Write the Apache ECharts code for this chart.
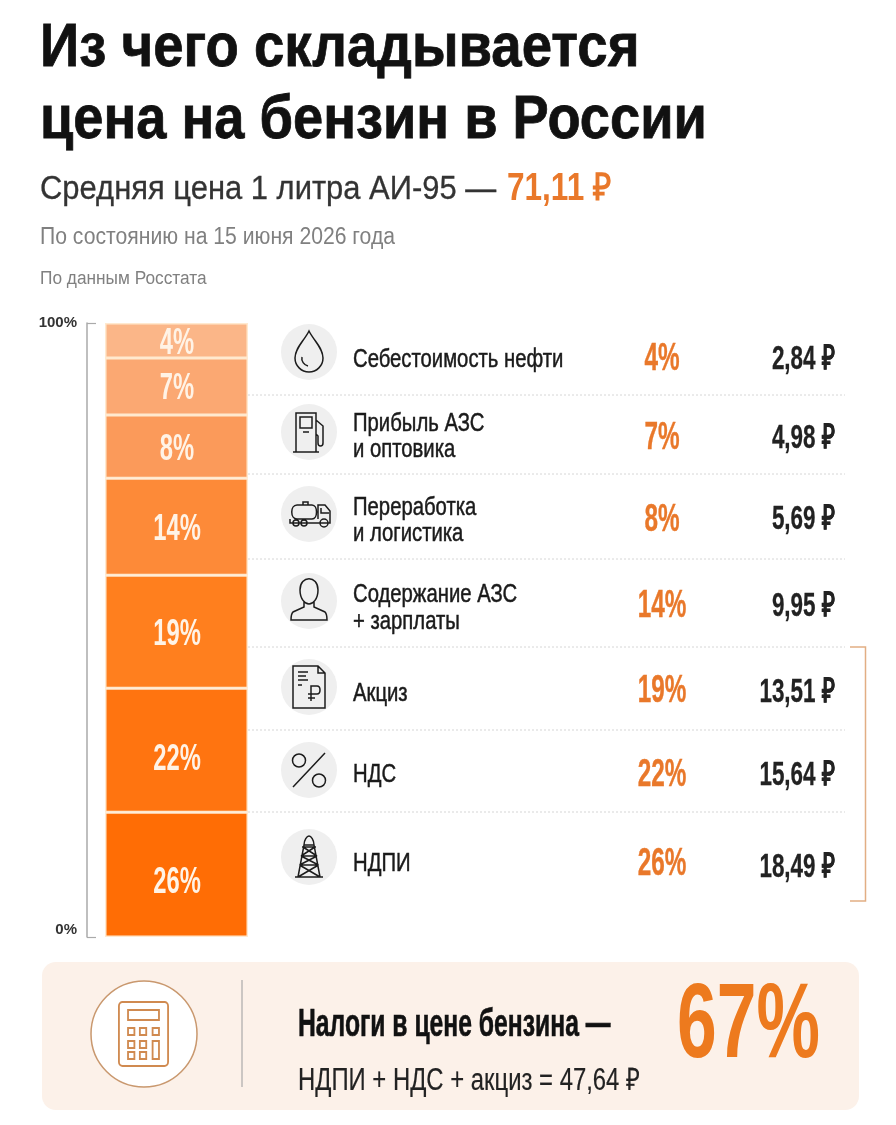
<!DOCTYPE html>
<html><head><meta charset="utf-8">
<style>html,body{margin:0;padding:0;background:#fff}#c{width:896px;height:1125px}</style>
<script src="https://cdn.jsdelivr.net/npm/echarts@6/dist/echarts.min.js"></script>
</head><body><div id="c"></div>
<script>
// Row data, top to bottom
const categories = [['Себестоимость нефти'],['Прибыль АЗС','и оптовика'],['Переработка','и логистика'],['Содержание АЗС','+ зарплаты'],['Акциз'],['НДС'],['НДПИ']];
const shares = [4,7,8,14,19,22,26];
const rubles = ['2,84','4,98','5,69','9,95','13,51','15,64','18,49'];
// The reference does not draw its segments to scale: these are the segment heights read off its 0–100% axis
const drawnHeights = [5.7,9.3,10.3,15.8,18.4,20.2,20.3];
const axisTicks = [0,100];

const F='"Liberation Sans",sans-serif';
const barColors=['#FBB688','#FBA872','#FB9A5A','#FD8A38','#FF7F1E','#FF7410','#FF6D05'];
const labelDy=[1,0,1,1,1,7,6];
const rowCircleY=[352,432,514,601,687,770,857];
const rowTextY=[[358],[422,448],[506,532],[593,620],[692],[773],[862]];
const rowPctY=[357,436,518,604,689,773,862];
const rowRubY=[357,436,517,604,690,773,865];
const sepY=[395,474,559,647,730,812];

const R=echarts.graphic.registerShape, X=echarts.graphic.extendPath;
const iconPaths={
 drop:'M0,-21C-5,-11 -14,-4 -14,6A14,14 0 0 0 14,6C14,-4 5,-11 0,-21ZM-7,5C-8,9 -5,13 -1,14',
 pump:'M-13,20L-13,-19L7,-19L7,20M-16,20L10,20M-9,-15L3,-15L3,-4L-9,-4ZM-6,0L0,0M7,-12L14,-6L14,11C14,15 9,15 9,11L9,4L7,2',
 truck:'M-12,-9L3,-9C9,-9 9,5 3,5L-12,5C-19,5 -19,-9 -12,-9ZM-6,-9L-6,-12L-1,-12L-1,-9M-19,5L-19,9L21,9L21,-3L16,-9L9,-9L9,5M-13,12A3,3 0 1 0 -13,6A3,3 0 1 0 -13,12M-5,12A3,3 0 1 0 -5,6A3,3 0 1 0 -5,12M15,13A4,4 0 1 0 15,5A4,4 0 1 0 15,13M12,-6L12,-1L20,-1',
 person:'M-9,-11C-9,-26 9,-26 9,-11C9,-2 4,3 0,3C-4,3 -9,-2 -9,-11ZM-5,1L-5,6L-16,11C-18,13 -18,16 -18,19L18,19C18,16 18,13 16,11L5,6L5,1',
 doc:'M-16,-21L9,-21L16,-14L16,21L-16,21ZM9,-21L9,-14L16,-14M-11,-15L-1,-15M-11,-11L-3,-11M-11,-7L-1,-7M-11,-2L-7,-2M2,14L2,-1L8,-1C12,-1 12,7 8,7L-1,7M-1,11L6,11',
 pct:'M-16,17L16,-17M-10,-3A6.5,6.5 0 1 0 -10,-16A6.5,6.5 0 1 0 -10,-3M10,17A6.5,6.5 0 1 0 10,4A6.5,6.5 0 1 0 10,17',
 rig:'M-14,20L14,20M-11,20L-5,-12L5,-12L11,20M-5,-12C-5,-17 -2,-21 0,-21C2,-21 5,-17 5,-12M-7,-10L7,-10M-8,-1L8,-1M-9.5,8L9.5,8M-6,-10L8,-1M6,-10L-8,-1M-8,-1L9.5,8M8,-1L-9.5,8M-9.5,8L11,20M9.5,8L-11,20',
 calc:'M-23,-32L23,-32A4,4 0 0 1 27,-28L27,28A4,4 0 0 1 23,32L-23,32A4,4 0 0 1 -27,28L-27,-28A4,4 0 0 1 -23,-32ZM-17,-24L17,-24L17,-14L-17,-14ZM-17,-6L-10,-6L-10,1L-17,1ZM-4,-6L3,-6L3,1L-4,1ZM10,-6L17,-6L17,1L10,1ZM-17,7L-10,7L-10,14L-17,14ZM-4,7L3,7L3,14L-4,14ZM10,7L17,7L17,25L10,25ZM-17,18L-10,18L-10,25L-17,25ZM-4,18L3,18L3,25L-4,25Z'
};
Object.keys(iconPaths).forEach(k=>R('ic_'+k,X(iconPaths[k],{})));
const rowIcons=['drop','pump','truck','person','doc','pct','rig'];

function T(text,x,y,size,o){o=o||{};const c=o.color||'#1a1a1a';const st={text:text,x:0,y:0,fill:c,
  font:(o.bold?'bold ':'')+size+'px '+F,textAlign:o.align||'left',textVerticalAlign:'middle'};
  if(o.w){st.stroke=c;st.lineWidth=o.w;}
  return {type:'text',x:x,y:y+size*0.07,scaleX:o.sx||1,z:10,silent:true,style:st};}
const OR='#E9782A';
const g=[];
g.push(T('Из чего складывается',40,45,62,{bold:true,color:'#111',sx:.88,w:.8}));
g.push(T('цена на бензин в России',40,117,62,{bold:true,color:'#111',sx:.875,w:.8}));
g.push(T('Средняя цена 1 литра АИ-95 —',40,187,34,{color:'#333',sx:.91,w:.3}));
g.push(T('71,11 ₽',507,187,38,{bold:true,color:OR,sx:.83}));
g.push(T('По состоянию на 15 июня 2026 года',40,236,23,{color:'#808080',sx:.92}));
g.push(T('По данным Росстата',40,278,18,{color:'#808080',sx:.96}));
sepY.forEach(y=>g.push({type:'line',silent:true,shape:{x1:248,y1:y,x2:845,y2:y},style:{stroke:'#d6d6d6',lineWidth:1,lineDash:[2,2]}}));
categories.forEach((lines,i)=>{
  const cy=rowCircleY[i];
  g.push({type:'circle',silent:true,shape:{cx:309,cy:cy,r:28},style:{fill:'#EFEFEF'}});
  g.push({type:'ic_'+rowIcons[i],silent:true,x:309,y:cy,z:5,style:{fill:'none',stroke:'#1c1c1c',lineWidth:1.5}});
  lines.forEach((s,j)=>g.push(T(s,353,rowTextY[i][j],26,{color:'#1a1a1a',sx:.78,w:.5})));
  g.push(T(shares[i]+'%',662,rowPctY[i],38,{bold:true,color:OR,align:'center',sx:.64,w:.4}));
  g.push(T(rubles[i]+' ₽',835,rowRubY[i],34,{bold:true,color:'#222',align:'right',sx:.66,w:.3}));
});
g.push({type:'polyline',silent:true,shape:{points:[[850,647],[865.5,647],[865.5,901],[850,901]]},style:{stroke:'#E2AE84',lineWidth:1.5,fill:'none'}});
g.push({type:'rect',silent:true,shape:{x:42,y:962,width:817,height:148,r:14},style:{fill:'#FCF1E9'}});
g.push({type:'circle',silent:true,shape:{cx:144,cy:1034,r:53},z:3,style:{fill:'#fff',stroke:'#C9986E',lineWidth:1.5}});
g.push({type:'ic_calc',silent:true,x:143.5,y:1034,scaleX:.91,z:5,style:{fill:'none',stroke:'#D08A50',lineWidth:2}});
g.push({type:'line',silent:true,shape:{x1:242,y1:980,x2:242,y2:1087},style:{stroke:'#aaa',lineWidth:1.2}});
g.push(T('Налоги в цене бензина —',298,1023,38,{bold:true,color:'#111',sx:.65,w:.6}));
g.push(T('НДПИ + НДС + акциз = 47,64 ₽',298,1079,31,{color:'#222',sx:.77,w:.2}));
g.push(T('67%',677,1021,105,{bold:true,color:'#ED7A1E',sx:.68}));

const series=[];
for(let i=shares.length-1;i>=0;i--){
  series.push({type:'bar',stack:'p',barWidth:'100%',silent:true,data:[drawnHeights[i]],
    itemStyle:{color:barColors[i],borderColor:'#FFE9CF',borderWidth:1.5}});
}
const chart=echarts.init(document.getElementById('c'),null,{renderer:'canvas'});
chart.setOption({animation:false,backgroundColor:'#fff',
  grid:{left:105,right:648,top:323,bottom:188},
  xAxis:{type:'category',data:['АИ-95'],show:false},
  yAxis:{type:'value',min:axisTicks[0],max:axisTicks[1],interval:100,offset:18,splitLine:{show:false},
    axisLine:{show:true,lineStyle:{color:'#aaa',width:1.5}},
    axisTick:{show:true,inside:true,length:9,lineStyle:{color:'#aaa',width:1.2}},
    axisLabel:{margin:10,formatter:'{value}%',color:'#333',fontFamily:F,fontWeight:'bold',fontSize:15,verticalAlignMinLabel:'bottom',verticalAlignMaxLabel:'middle'}},
  series:series,graphic:{elements:g}});
// Segment labels are placed through the value axis, at the middle of each stacked segment
let cum=0;
const barLabels=[];
for(let i=shares.length-1;i>=0;i--){
  const y=chart.convertToPixel({yAxisIndex:0},cum+drawnHeights[i]/2)+labelDy[i];
  barLabels.push(T(shares[i]+'%',177,y,36,{bold:true,color:'#FFF3E6',align:'center',sx:.66}));
  cum+=drawnHeights[i];
}
chart.setOption({graphic:{elements:g.concat(barLabels)}});
</script></body></html>
